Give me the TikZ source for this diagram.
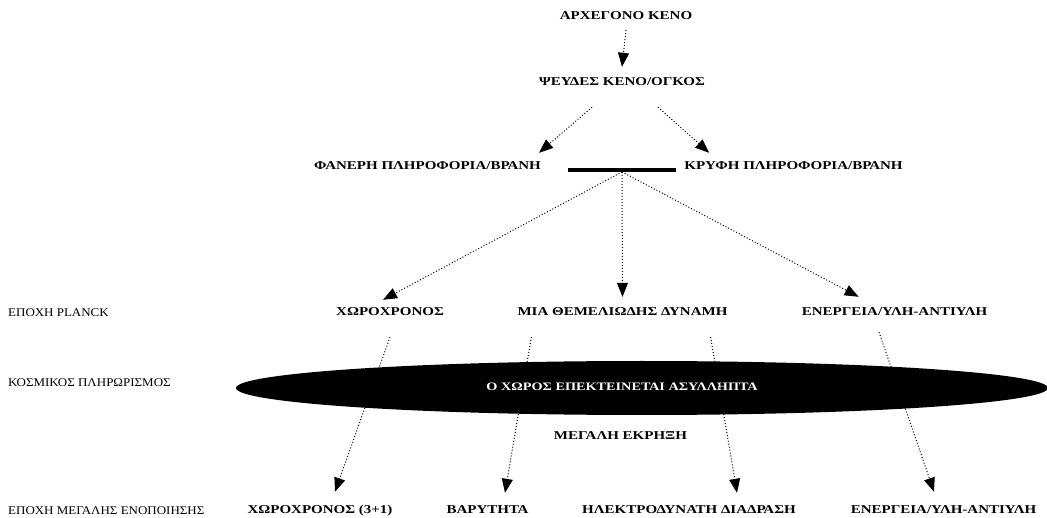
\documentclass[tikz,border=0pt]{standalone}
\usepackage{fontspec}
\newfontfamily\stageFont{Liberation Serif}[FakeStretch=1.25]
\newfontfamily\eraFont{Liberation Serif}[FakeStretch=1.1]
\usepackage{tikz}
\usetikzlibrary{arrows.meta, shapes.geometric, calc, positioning}
\tikzset{
    stage/.style={font=\stageFont\bfseries\fontsize{12}{14}\selectfont, inner sep=0pt, text height=8pt, text depth=0pt},
    era/.style={anchor=west, font=\eraFont\fontsize{11.8}{14}\selectfont, inner sep=0pt, text height=8pt, text depth=0pt},
    flowEdge/.style={->, >={Triangle[length=14pt, width=11pt]}, dotted, line width=1pt},
    braneBar/.style={rectangle, fill=black, inner sep=0pt, minimum width=108pt, minimum height=3.5pt},
    inflationBlob/.style={ellipse, fill=black, inner sep=0pt, minimum width=812pt, minimum height=54pt},
}
\newcommand{\drawFlow}[2]{
    \draw[flowEdge] (#1) -- (#2);
}

\begin{document}
\begin{tikzpicture}[x=1pt, y=-1pt]
    \useasboundingbox (0, 0) rectangle (1047, 518);

    % vacuum and branes
    \node[stage] (void) at (626, 16) {ΑΡΧΕΓΟΝΟ ΚΕΝΟ};
    \node[stage] (pseudo) at (622, 82) {ΨΕΥΔΕΣ ΚΕΝΟ/ΟΓΚΟΣ};
    \node[stage] (visible) at (427.5, 166) {ΦΑΝΕΡΗ ΠΛΗΡΟΦΟΡΙΑ/ΒΡΑΝΗ};
    \node[stage] (hidden) at (793.5, 166) {ΚΡΥΦΗ ΠΛΗΡΟΦΟΡΙΑ/ΒΡΑΝΗ};
    \node[braneBar] (brane) at (622, 170) {};

    \drawFlow{$(void.south)+(0, 10)$}{$(pseudo.north)+(0, -11)$}
    \drawFlow{$(pseudo.south)+(-30, 21)$}{$(visible.north east)+(-2, -9)$}
    \drawFlow{$(pseudo.south)+(36, 21)$}{$(hidden.north west)+(25, -9)$}

    % eras
    \node[era] (planck) at (8, 313) {ΕΠΟΧΗ PLANCK};
    \node[era] (cosmic) at (8, 383) {ΚΟΣΜΙΚΟΣ ΠΛΗΡΩΡΙΣΜΟΣ};
    \node[era] (unify) at (8, 510) {ΕΠΟΧΗ ΜΕΓΑΛΗΣ ΕΝΟΠΟΙΗΣΗΣ};

    % planck row
    \node[stage] (spacetime) at (390, 312) {ΧΩΡΟΧΡΟΝΟΣ};
    \node[stage] (force) at (622.5, 312) {ΜΙΑ ΘΕΜΕΛΙΩΔΗΣ ΔΥΝΑΜΗ};
    \node[stage] (energy) at (894.5, 312) {ΕΝΕΡΓΕΙΑ/ΥΛΗ-ΑΝΤΙΥΛΗ};

    \drawFlow{brane.south}{$(spacetime.north)+(-7, -8)$}
    \drawFlow{brane.south}{$(force.north)+(0, -11)$}
    \drawFlow{brane.south}{$(energy.north west)+(57, -11)$}

    % inflation
    \node[inflationBlob] (inflation) at (642, 388) {};
    \node[stage, text=white, font=\stageFont\bfseries\fontsize{11.4}{14}\selectfont] (expand) at (622, 387) {Ο ΧΩΡΟΣ ΕΠΕΚΤΕΙΝΕΤΑΙ ΑΣΥΛΛΗΠΤΑ};
    \node[stage] (bang) at (620.5, 435) {ΜΕΓΑΛΗ ΕΚΡΗΞΗ};

    % unification row
    \node[stage] (spacetime31) at (320, 509) {ΧΩΡΟΧΡΟΝΟΣ (3+1)};
    \node[stage] (gravity) at (487.5, 509) {ΒΑΡΥΤΗΤΑ};
    \node[stage] (electroweak) at (689, 509) {ΗΛΕΚΤΡΟΔΥΝΑΤΗ ΔΙΑΔΡΑΣΗ};
    \node[stage] (energy2) at (943.5, 509) {ΕΝΕΡΓΕΙΑ/ΥΛΗ-ΑΝΤΙΥΛΗ};

    \drawFlow{$(spacetime.south)+(0, 21)$}{$(spacetime31.north)+(15, -13)$}
    \drawFlow{$(force.south west)+(14, 21)$}{$(gravity.north)+(17.5, -12)$}
    \drawFlow{$(force.south east)+(-17, 21)$}{$(electroweak.north)+(48, -12)$}
    \drawFlow{$(energy.south)+(-15.5, 16)$}{$(energy2.north)+(-9.5, -13)$}
\end{tikzpicture}
\end{document}
